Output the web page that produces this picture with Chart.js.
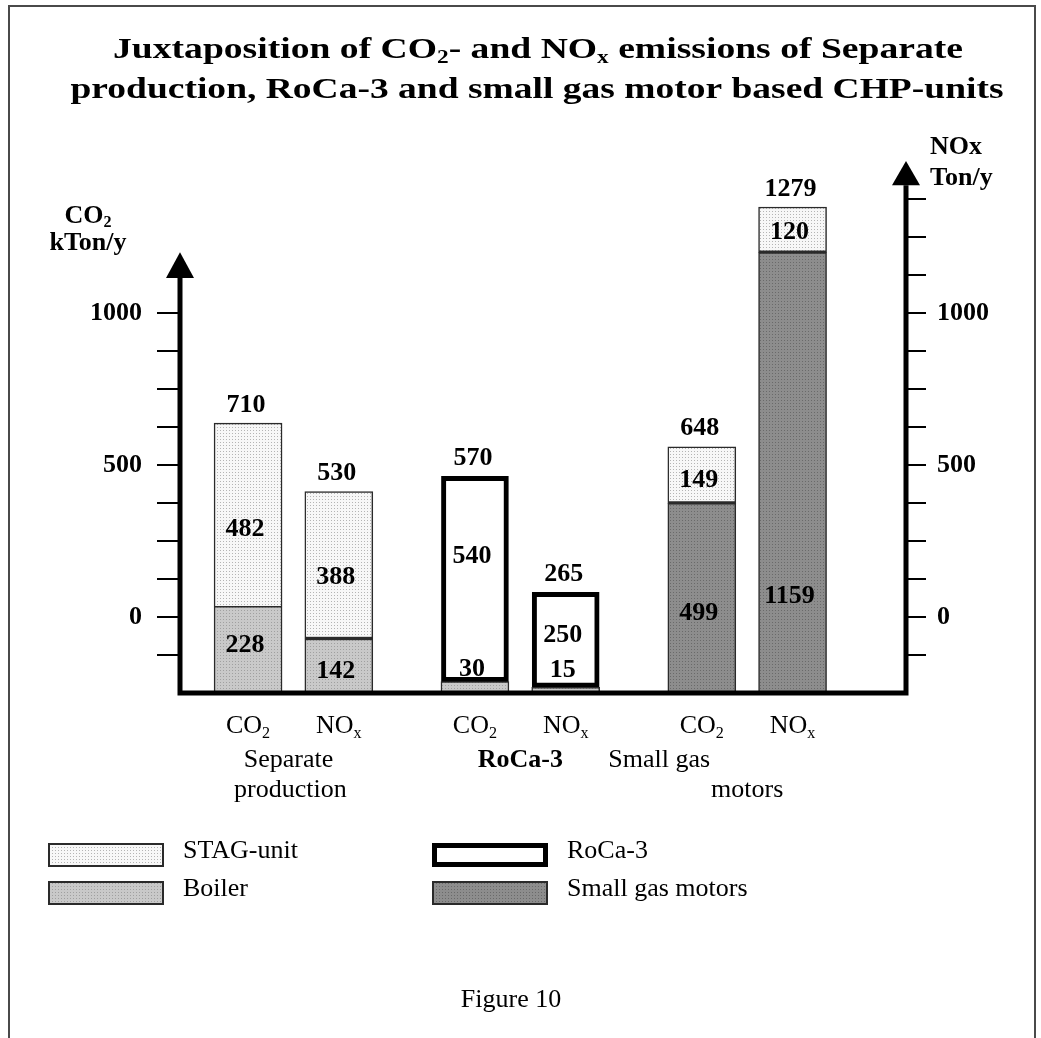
<!DOCTYPE html>
<html><head><meta charset="utf-8">
<script src="https://cdn.jsdelivr.net/npm/chart.js@4.4.1/dist/chart.umd.min.js"></script>
<style>html,body{margin:0;padding:0;background:#fff;}#wrap{width:1041px;height:1038px;}</style>
</head><body><div id="wrap"><canvas id="c" width="1041" height="1038"></canvas></div>
<script>
// ---------------- data ----------------
const categories = ['CO_2', 'NO_x', 'CO_2', 'NO_x', 'CO_2', 'NO_x'];
const groupNames = [['Separate', 'production'], ['RoCa-3'], ['Small gas', 'motors']];
const boiler = [228, 142, 30, 15, null, null];
const stagUnit = [482, 388, null, null, 149, 120];
const roca3 = [null, null, 540, 250, null, null];
const smallGasMotors = [null, null, null, null, 499, 1159];
const totals = [710, 530, 570, 265, 648, 1279];
const axisTickLabels = [0, 500, 1000];
const titleLines = ['Juxtaposition of CO_2- and NO_x emissions of Separate',
                    'production, RoCa-3 and small gas motor based CHP-units'];
const leftAxisTitle = ['CO_2', 'kTon/y'];
const rightAxisTitle = ['NOx', 'Ton/y'];
const caption = 'Figure 10';
const legendOrder = ['STAG-unit', 'Boiler', 'RoCa-3', 'Small gas motors'];

// ---------------- layout / style ----------------
const W = 1041, H = 1038;
const PLOT = { top: 161, bottom: 693, left: 180, right: 906 };
const slotCount = 16;
const barSlots = [1, 3, 6, 8, 11, 13];
const FONT = '"Liberation Serif", "Times New Roman", serif';
const fnt = (s, b) => (b ? 'bold ' : '') + s + 'px ' + FONT;

function makePattern(bg, dot) {
  const c = document.createElement('canvas'); c.width = 3; c.height = 3;
  const g = c.getContext('2d');
  g.fillStyle = bg; g.fillRect(0, 0, 3, 3);
  g.fillStyle = dot; g.fillRect(1, 1, 1, 1);
  return g.createPattern(c, 'repeat');
}
const fills = {
  stag: makePattern('#f7f7f7', '#b4b4b4'),
  boiler: makePattern('#c9c9c9', '#a0a0a0'),
  gas: makePattern('#8d8d8d', '#6a6a6a')
};

// expand 6-bar arrays into the slot layout
const expand = arr => { const o = new Array(slotCount).fill(null); barSlots.forEach((s, i) => o[s] = arr[i]); return o; };
const slotLabels = expand(categories).map(v => v || '');

// inside label position: fraction of segment height from bottom, or {dy} above segment top
const insideLabelPos = {
  'Boiler': [0.55, 0.4, { dy: -12 }, { dy: -17 }, null, null],
  'STAG-unit': [0.42, 0.42, null, null, 0.41, 0.45],
  'RoCa-3': [null, null, 0.61, 0.55, null, null],
  'Small gas motors': [null, null, null, null, 0.42, 0.22]
};

function splitSub(str) {
  const out = []; const re = /_(.)/g; let last = 0, m;
  while ((m = re.exec(str))) { if (m.index > last) out.push([str.slice(last, m.index), 0]); out.push([m[1], 1]); last = re.lastIndex; }
  if (last < str.length) out.push([str.slice(last), 0]);
  return out;
}
function richWidth(ctx, parts, size, bold) {
  let w = 0;
  for (const [t, sub] of parts) { ctx.font = fnt(sub ? size * 0.62 : size, bold); w += ctx.measureText(t).width; }
  return w;
}
function drawRich(ctx, str, x, y, size, bold, align, targetW) {
  const parts = splitSub(str);
  const w = richWidth(ctx, parts, size, bold);
  const sx = targetW ? targetW / w : 1;
  const x0 = align === 'center' ? x - w * sx / 2 : align === 'right' ? x - w * sx : x;
  ctx.save();
  ctx.translate(x0, y); ctx.scale(sx, 1);
  ctx.textBaseline = 'middle'; ctx.textAlign = 'left'; ctx.fillStyle = '#000';
  let cx = 0;
  for (const [t, sub] of parts) {
    const s = sub ? size * 0.62 : size;
    ctx.font = fnt(s, bold);
    ctx.fillText(t, cx, sub ? size * 0.28 : 0);
    cx += ctx.measureText(t).width;
  }
  ctx.restore();
}

const decor = {
  id: 'decor',
  beforeDraw(chart) {
    const ctx = chart.ctx;
    ctx.save();
    ctx.fillStyle = '#fff'; ctx.fillRect(0, 0, W, H);
    ctx.strokeStyle = '#4a4a4a'; ctx.lineWidth = 2;
    ctx.strokeRect(9, 6, 1026, 1060);
    ctx.restore();
  },
  afterDatasetsDraw(chart) {
    const ctx = chart.ctx;
    const { left, right, bottom } = chart.chartArea;
    const yL = chart.scales.yL, yR = chart.scales.yR, xs = chart.scales.x;
    ctx.save();
    // axis lines
    ctx.strokeStyle = '#000'; ctx.fillStyle = '#000'; ctx.lineWidth = 5; ctx.lineCap = 'butt';
    const lBase = yL.getPixelForValue(1115), lTip = yL.getPixelForValue(1200);
    const rBase = yR.getPixelForValue(1420), rTip = yR.getPixelForValue(1500);
    ctx.beginPath();
    ctx.moveTo(left, bottom + 2.5); ctx.lineTo(left, lBase);
    ctx.moveTo(left - 2.5, bottom); ctx.lineTo(right + 2.5, bottom);
    ctx.moveTo(right, bottom + 2.5); ctx.lineTo(right, rBase);
    ctx.stroke();
    const arrow = (x, tip, base) => { ctx.beginPath(); ctx.moveTo(x, tip); ctx.lineTo(x - 14, base); ctx.lineTo(x + 14, base); ctx.closePath(); ctx.fill(); };
    arrow(left, lTip, lBase); arrow(right, rTip, rBase);

    // value labels
    const metas = chart.data.datasets.map((d, i) => chart.getDatasetMeta(i).data);
    barSlots.forEach((slot, b) => {
      let top = Infinity, bx = xs.getPixelForValue(slot);
      chart.data.datasets.forEach((ds, di) => {
        const v = ds.data[slot]; if (v == null) return;
        const el = metas[di][slot];
        top = Math.min(top, el.y);
        const pos = insideLabelPos[ds.label][b];
        let ly;
        if (typeof pos === 'number') ly = el.base - pos * (el.base - el.y);
        else ly = el.y + pos.dy;
        drawRich(ctx, String(v), bx - 3, ly, 26, true, 'center');
      });
      drawRich(ctx, String(totals[b]), bx - 2, top - 18, 26, true, 'center');
    });

    // category labels
    barSlots.forEach((slot, b) => drawRich(ctx, categories[b], xs.getPixelForValue(slot), 726, 26, false, 'center'));
    // group labels
    const groupStyle = [
      { dx: [-5, -3], y: [760, 790], bold: false },
      { dx: [0], y: [760], bold: true },
      { dx: [-88, 0], y: [760, 790], bold: false }
    ];
    groupNames.forEach((lines, g) => {
      const cx = (xs.getPixelForValue(barSlots[2 * g]) + xs.getPixelForValue(barSlots[2 * g + 1])) / 2;
      lines.forEach((t, k) => drawRich(ctx, t, cx + groupStyle[g].dx[k], groupStyle[g].y[k], 26, groupStyle[g].bold, 'center'));
    });

    // title
    drawRich(ctx, titleLines[0], 538, 50, 30, true, 'center', 850);
    drawRich(ctx, titleLines[1], 537, 90, 30, true, 'center', 933);
    // axis titles
    drawRich(ctx, leftAxisTitle[0], 88, 216, 26, true, 'center');
    drawRich(ctx, leftAxisTitle[1], 88, 243, 26, true, 'center');
    drawRich(ctx, rightAxisTitle[0], 930, 147, 26, true, 'left');
    drawRich(ctx, rightAxisTitle[1], 930, 178, 26, true, 'left');

    // legend
    const colX = [48, 432], rowY = [843, 881];
    legendOrder.forEach((name, i) => {
      const ds = chart.data.datasets.find(d => d.label === name);
      const col = Math.floor(i / 2), row = i % 2;
      const x = colX[col], y = rowY[row];
      const bw = name === 'RoCa-3' ? 5 : 2;
      ctx.fillStyle = ds.borderColor; ctx.fillRect(x, y, 116, 24);
      ctx.fillStyle = ds.backgroundColor; ctx.fillRect(x + bw, y + bw, 116 - 2 * bw, 24 - 2 * bw);
      drawRich(ctx, name, x + 135, y + 8, 26, false, 'left');
    });
    drawRich(ctx, caption, 511, 1000, 26, false, 'center');
    ctx.restore();
  }
};

const stagBorder = c => ({ top: 1.5, left: 1.5, right: 1.5, bottom: c.dataIndex === barSlots[0] ? 0 : 2.5 });
const tickFont = { family: 'Liberation Serif', size: 26, weight: 'bold' };
function fixedTicks(maxV) {
  return s => { const t = []; for (let v = -125; v <= maxV; v += 125) t.push({ value: v }); s.ticks = t; };
}

new Chart(document.getElementById('c'), {
  type: 'bar',
  data: {
    labels: slotLabels,
    datasets: [
      { label: 'Boiler', data: expand(boiler), backgroundColor: fills.boiler, borderColor: '#2a2a2a', borderWidth: 1.5, borderSkipped: false, barThickness: 68 },
      { label: 'Small gas motors', data: expand(smallGasMotors), backgroundColor: fills.gas, borderColor: '#2a2a2a', borderWidth: 1.5, borderSkipped: false, barThickness: 68 },
      { label: 'RoCa-3', data: expand(roca3), backgroundColor: '#ffffff', borderColor: '#000000', borderWidth: 5, borderSkipped: false, barThickness: 67 },
      { label: 'STAG-unit', data: expand(stagUnit), backgroundColor: fills.stag, borderColor: '#2a2a2a', borderWidth: stagBorder, borderSkipped: false, barThickness: 68 }
    ]
  },
  options: {
    responsive: false, animation: false, devicePixelRatio: 1, events: [],
    layout: { padding: { top: PLOT.top, bottom: H - PLOT.bottom, left: 0, right: 0 } },
    plugins: { legend: { display: false }, tooltip: { enabled: false }, title: { display: false } },
    scales: {
      x: { type: 'category', display: false, stacked: true, offset: true },
      y: { display: false, stacked: true, min: 0, max: 1400 },
      yL: {
        type: 'linear', position: 'left', min: -250, max: 1500, bounds: 'data',
        grid: { drawOnChartArea: false, drawTicks: true, tickLength: 23, color: '#000', lineWidth: 2 },
        border: { display: false },
        ticks: { font: tickFont, color: '#000', padding: 15, callback: v => axisTickLabels.includes(v) ? String(v) : '' },
        afterBuildTicks: fixedTicks(1000),
        afterFit: s => { s.width = PLOT.left; }
      },
      yR: {
        type: 'linear', position: 'right', min: -250, max: 1500, bounds: 'data',
        grid: { drawOnChartArea: false, drawTicks: true, tickLength: 20, color: '#000', lineWidth: 2 },
        border: { display: false },
        ticks: { font: tickFont, color: '#000', padding: 11, callback: v => axisTickLabels.includes(v) ? String(v) : '' },
        afterBuildTicks: fixedTicks(1375),
        afterFit: s => { s.width = W - PLOT.right; }
      }
    }
  },
  plugins: [decor]
});
</script>
</body></html>
